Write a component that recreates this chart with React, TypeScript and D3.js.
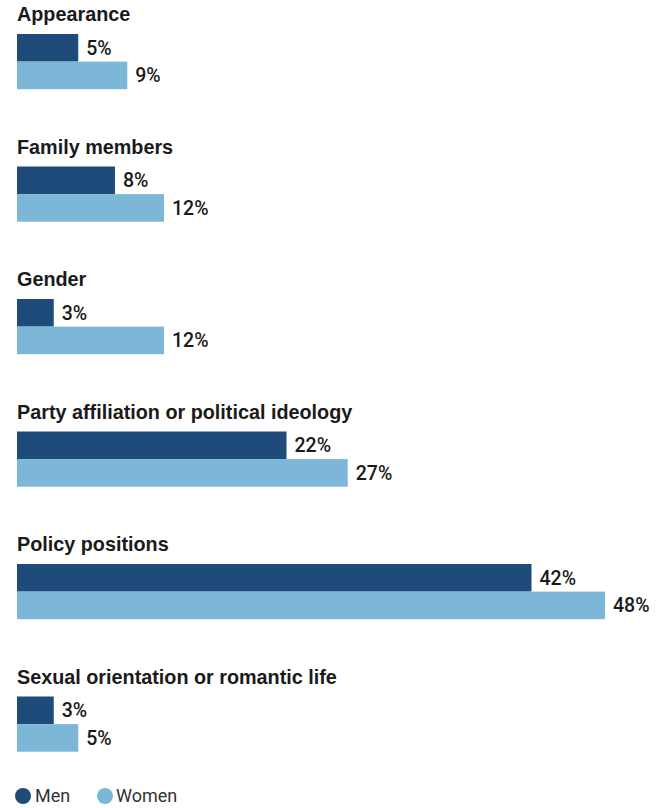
import React from "react";
import * as d3 from "d3";

const categories = [
  "Appearance",
  "Family members",
  "Gender",
  "Party affiliation or political ideology",
  "Policy positions",
  "Sexual orientation or romantic life",
];
const menValues = [5, 8, 3, 22, 42, 3];
const womenValues = [9, 12, 12, 27, 48, 5];
const seriesNames = ["Men", "Women"];
const seriesColors = ["#1f4b7b", "#7db7d8"];

const W = 657;
const H = 808;

export default function App() {
  const x = d3.scaleLinear().domain([0, 48]).range([17, 605]);
  const y = d3
    .scaleBand<string>()
    .domain(categories)
    .range([34, 34 + 132.5 * categories.length])
    .paddingInner(0)
    .paddingOuter(0);
  const barH = 27.6;
  const titleFont = "'Liberation Sans', Arial, sans-serif";
  const labelFont = "Roboto, 'Liberation Sans', Arial, sans-serif";
  const series = [menValues, womenValues];

  return (
    <div style={{ position: "absolute", left: 0, top: 0 }}>
      <svg width={W} height={H} style={{ display: "block", background: "#fff" }}>
        {categories.map((c, i) => {
          const gy = y(c)!;
          return (
            <g key={c}>
              <text
                x={17}
                y={gy - 13}
                fontFamily={titleFont}
                fontWeight="bold"
                fontSize={19.8}
                fill="#1a1a1a"
              >
                {c}
              </text>
              {series.map((vals, s) => {
                const by = gy + s * barH;
                return (
                  <g key={s}>
                    <rect
                      x={x(0)}
                      y={by}
                      width={x(vals[i]) - x(0)}
                      height={barH}
                      fill={seriesColors[s]}
                    />
                    <text
                      x={x(vals[i]) + 8}
                      y={by + barH / 2 + 7}
                      fontFamily={labelFont}
                      fontSize={19.5}
                      fontWeight={500}
                      fill="#1a1a1a"
                    >
                      {vals[i]}%
                    </text>
                  </g>
                );
              })}
            </g>
          );
        })}
        <g>
          <circle cx={23} cy={796} r={8} fill={seriesColors[0]} />
          <text x={35} y={802} fontFamily={labelFont} fontSize={18} fill="#333">
            {seriesNames[0]}
          </text>
          <circle cx={105} cy={796} r={8} fill={seriesColors[1]} />
          <text x={116} y={802} fontFamily={labelFont} fontSize={18} fill="#333">
            {seriesNames[1]}
          </text>
        </g>
      </svg>
    </div>
  );
}
